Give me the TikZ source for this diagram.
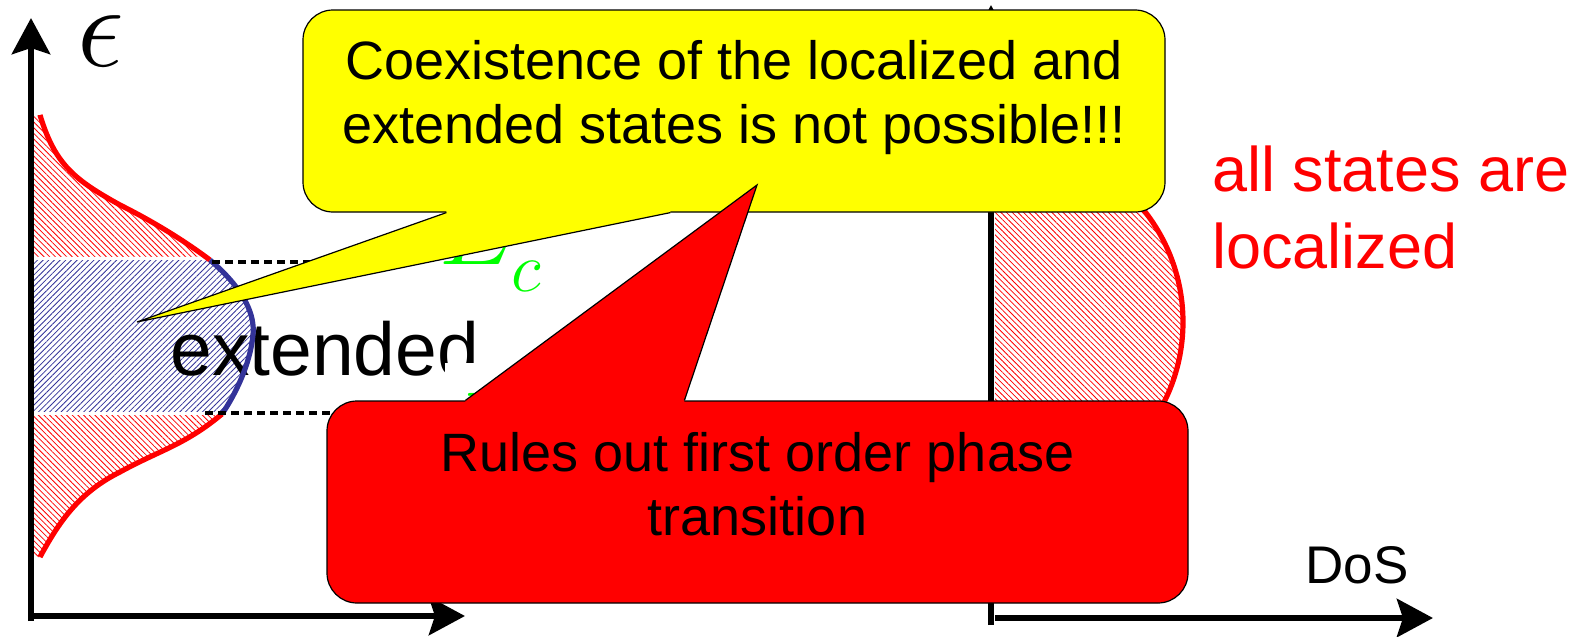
\documentclass[tikz,border=0pt]{standalone}
\usepackage{fix-cm}
\usepackage{fontspec}
\setsansfont{Liberation Sans}
\usepackage{tikz}
\usetikzlibrary{arrows.meta,calc,patterns.meta}
\definecolor{dosblue}{RGB}{51,51,153}
\definecolor{noteyellow}{RGB}{255,255,0}
\definecolor{notered}{RGB}{255,0,0}
% density of states on the left, in three pieces
\newcommand{\dostop}{(40,115) .. controls (55,165) and (75,180) .. (120,205) .. controls (160,225) and (190,245) .. (210,260)}
\newcommand{\dosmid}{(210,260) .. controls (245,290) and (255,315) .. (253,335) .. controls (250,365) and (235,395) .. (222,414)}
\newcommand{\dosbot}{(222,414) .. controls (185,445) and (160,450) .. (120,472) .. controls (80,492) and (60,520) .. (40,557)}

\begin{document}
\begin{tikzpicture}[x=0.5pt,y=-0.5pt,
    axis/.style={line width=3.4pt,-{Stealth[length=18pt,width=19pt,inset=3pt]}},
    dosred/.style={notered,line width=2.6pt},
    redhatch/.style={pattern={Lines[angle=-45,distance=2pt,line width=0.4pt]},pattern color=notered},
    bluehatch/.style={pattern={Lines[angle=45,distance=2pt,line width=0.4pt]},pattern color=dosblue},
    edge/.style={black,line width=2.4pt,dash pattern=on 4pt off 2.5pt},
    ec/.style={green,anchor=base west,inner sep=1pt,fill=white,text height=48pt,font=\fontsize{50pt}{50pt}\selectfont},
    callout/.style={draw=black,line width=0.6pt,rounded corners=15pt,inner sep=0pt},
    msg/.style={anchor=base,align=center,font=\sffamily\fontsize{27pt}{32pt}\selectfont}]
  \useasboundingbox (0,0) rectangle (1581,637);

  % left plot: hatched DoS
  \fill[redhatch] (31,115) -- \dostop -- \dosmid -- \dosbot -- (31,557) -- cycle;
  \begin{scope}
    \clip (31,115) -- \dostop -- \dosmid -- \dosbot -- (31,557) -- cycle;
    \fill[white] (20,257) rectangle (300,415);
    \fill[bluehatch] (20,260) rectangle (300,411);
  \end{scope}
  \node[anchor=base west,inner sep=0pt,font=\sffamily\fontsize{37.5pt}{37.5pt}\selectfont] (ext) at (170,375) {extended};
  \draw[dosred] \dostop;
  \draw[dosblue,line width=2.6pt] \dosmid;
  \draw[dosred] \dosbot;
  \draw[edge] (212,262) -- (420,262);
  \draw[edge] (205,413) -- (440,413);
  \draw[axis] (31,621) -- (31,18);
  \draw[axis] (28,616) -- (465,616);
  \node[anchor=base west,inner sep=0pt,font=\fontsize{59pt}{59pt}\selectfont] (eps) at (77,66) {$\epsilon$};
  \node[ec] (ectop) at (437,264) {$E_{\raisebox{-6pt}{$\scriptstyle c$}}$};
  \node[ec] (ecbot) at (445,461) {$E_{\raisebox{-6pt}{$\scriptstyle c$}}$};

  % right plot: all localized
  \fill[redhatch] (995,505) arc[start angle=90,end angle=-90,x radius=188,y radius=183] -- cycle;
  \draw[dosred] (995,505) arc[start angle=90,end angle=-90,x radius=188,y radius=183];
  \draw[axis] (991,625) -- (991,5);
  \draw[axis] (995,618) -- (1433,618);
  \node[anchor=base west,inner sep=0pt,font=\sffamily\fontsize{26.5pt}{26.5pt}\selectfont] (dos) at (1305,583) {DoS};
  \node[anchor=base west,inner sep=0pt,align=left,notered,font=\sffamily\fontsize{31.5pt}{38.5pt}\selectfont] (loc) at (1212,268) {all states are\\localized};

  % yellow callout
  \node[callout,fill=noteyellow,minimum width=431pt,minimum height=101pt] (ybox) at (734,111) {};
  \coordinate (ytip) at (137,322);
  \coordinate (yb1) at ($(ybox.south west)+(144,0)$);
  \coordinate (yb2) at ($(ybox.south west)+(368,0)$);
  \fill[noteyellow] (yb1) -- (ytip) -- (yb2) -- ++(0,-4) -- ($(yb1)+(0,-4)$) -- cycle;
  \draw[line width=0.6pt] (yb1) -- (ytip) -- (yb2);
  \node[msg] (ytext) at ($(ybox.north)+(0,134)$) {Coexistence of the localized and\\extended states is not possible!!!};

  % red callout
  \node[callout,fill=notered,minimum width=430.5pt,minimum height=101pt] (rbox) at (757.5,502) {};
  \coordinate (rtip) at (757,185);
  \coordinate (rb1) at ($(rbox.north west)+(139,0)$);
  \coordinate (rb2) at ($(rbox.north west)+(358,0)$);
  \fill[notered] (rb1) -- (rtip) -- (rb2) -- ++(0,4) -- ($(rb1)+(0,4)$) -- cycle;
  \draw[line width=0.6pt] (rb1) -- (rtip) -- (rb2);
  \node[msg] (rtext) at ($(rbox.north)+(0,135)$) {Rules out first order phase\\transition};
\end{tikzpicture}
\end{document}
